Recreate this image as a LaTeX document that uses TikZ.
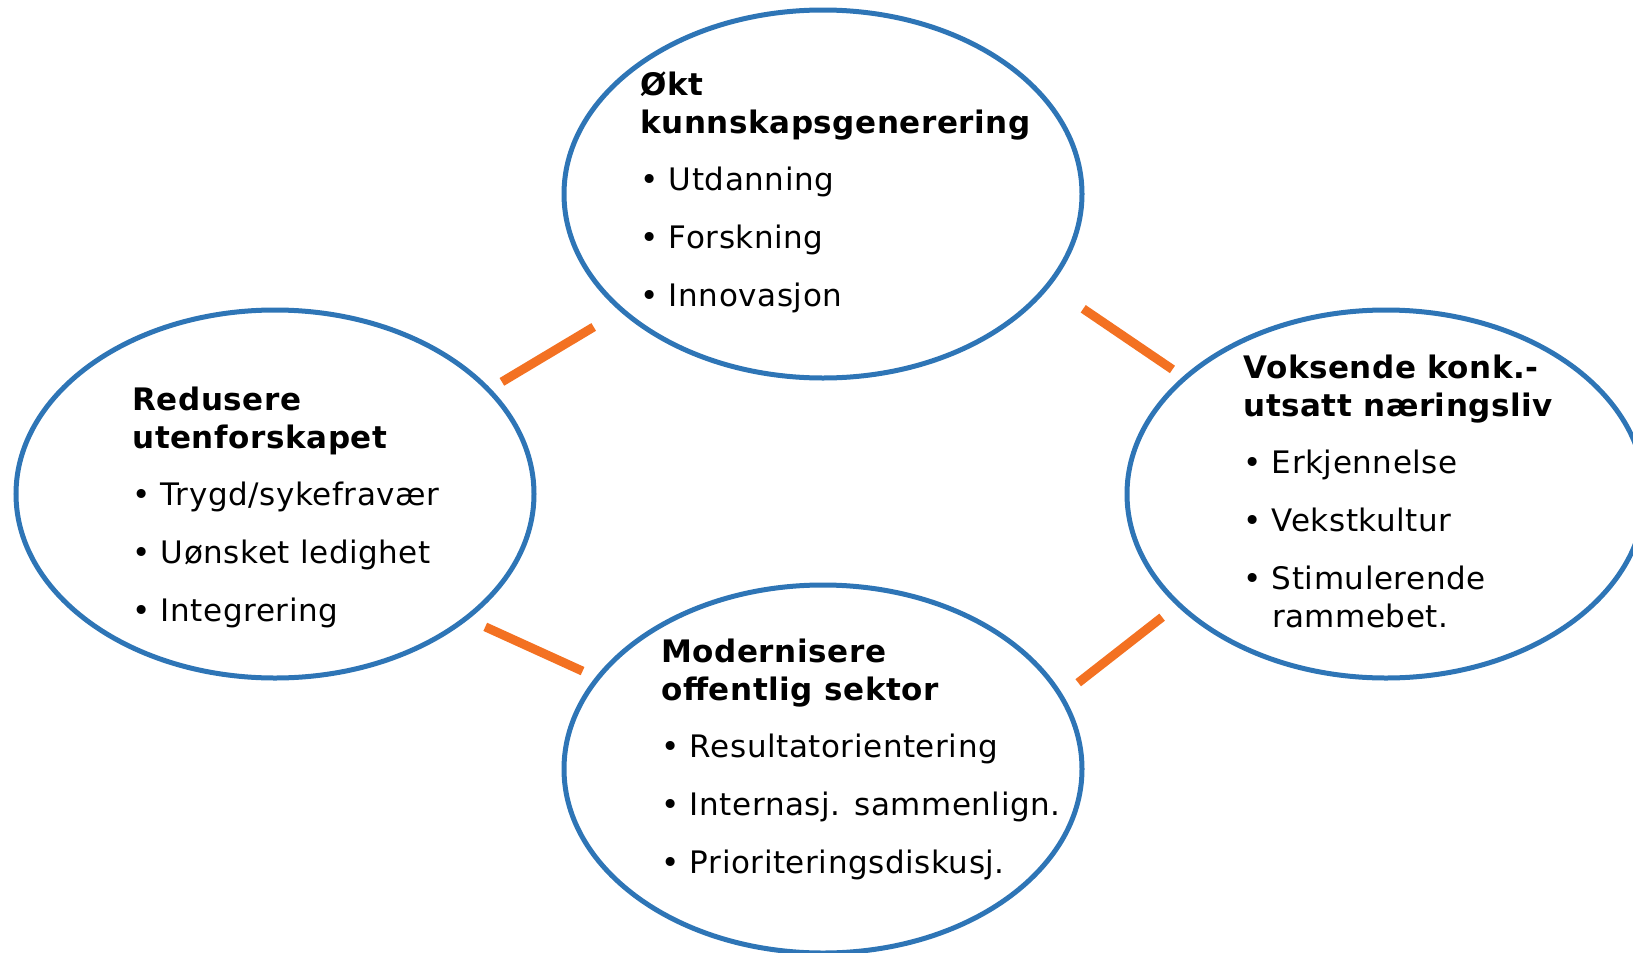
\documentclass[tikz,border=0pt]{standalone}
\usepackage{fontspec}
\setmainfont{DejaVu Sans}[LetterSpace=1.8]
\usetikzlibrary{shapes.geometric}
\definecolor{ringblue}{RGB}{46,117,182}
\definecolor{linkorange}{RGB}{243,113,34}
\newcommand{\bul}{\makebox[14.3pt][l]{\textbullet}}

\begin{document}
\begin{tikzpicture}[x=0.5pt, y=-0.5pt,
 ring/.style={ellipse, draw=ringblue, line width=2.5pt, minimum width=259pt, minimum height=184pt, inner sep=0pt, outer sep=0pt},
 link/.style={draw=linkorange, line width=4.5pt},
 txt/.style={anchor=base west, inner sep=0pt, font=\fontsize{15.5}{19}\selectfont}]
 \useasboundingbox (0,0) rectangle (1633,953);

 \node[ring] (T) at (823,194) {};
 \node[ring] (L) at (275,494) {};
 \node[ring] (R) at (1386,494) {};
 \node[ring] (B) at (823,769) {};

 \node[txt] (TT) at (640,95) {\begin{tabular}[t]{@{}l@{}}
  \textbf{Økt}\\
  \textbf{kunnskapsgenerering}\\[9.5pt]
  \bul Utdanning\\[10pt]
  \bul Forskning\\[10pt]
  \bul Innovasjon
 \end{tabular}};
 \node[txt] (LT) at (132,410) {\begin{tabular}[t]{@{}l@{}}
  \textbf{Redusere}\\
  \textbf{utenforskapet}\\[9.5pt]
  \bul Trygd/sykefravær\\[10pt]
  \bul Uønsket ledighet\\[10pt]
  \bul Integrering
 \end{tabular}};
 \node[txt] (RT) at (1243,378) {\begin{tabular}[t]{@{}l@{}}
  \textbf{Voksende konk.-}\\
  \textbf{utsatt næringsliv}\\[9.5pt]
  \bul Erkjennelse\\[10pt]
  \bul Vekstkultur\\[10pt]
  \bul Stimulerende\\
  \hspace*{14.3pt}rammebet.
 \end{tabular}};
 \node[txt] (BT) at (661,662) {\begin{tabular}[t]{@{}l@{}}
  \textbf{Modernisere}\\
  \textbf{offentlig sektor}\\[9.5pt]
  \bul Resultatorientering\\[10pt]
  \bul Internasj. sammenlign.\\[10pt]
  \bul Prioriteringsdiskusj.
 \end{tabular}};

 \draw[link, shorten <=16.5pt, shorten >=7.8pt] (T.210) -- (L.26);
 \draw[link, shorten <=21.2pt, shorten >=7.6pt] (T.338) -- (R.150);
 \draw[link, shorten <=10.5pt, shorten >=8.4pt] (L.327) -- (B.158);
 \draw[link, shorten <=11pt, shorten >=10.5pt] (B.17) -- (R.208);
\end{tikzpicture}
\end{document}
